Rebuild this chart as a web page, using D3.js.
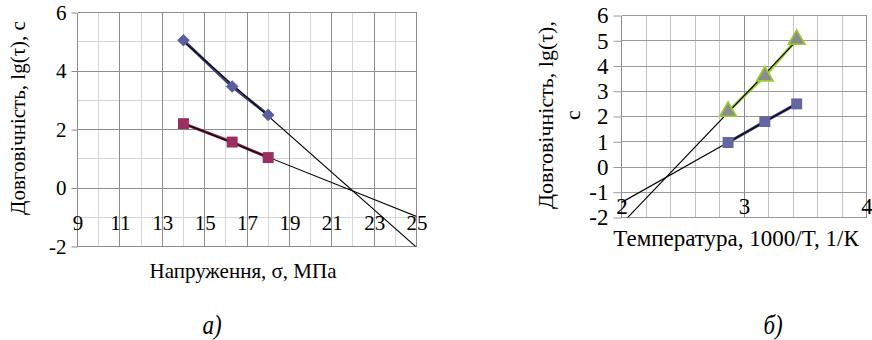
<!DOCTYPE html>
<html>
<head>
<meta charset="utf-8">
<script src="https://cdn.jsdelivr.net/npm/d3@7"></script>
<style>
  body { margin: 0; background: #fff; }
  svg { display: block; }
  text { font-family: "Liberation Serif", "DejaVu Serif", serif; fill: #000; }
</style>
</head>
<body>
<svg id="chart" width="872" height="340"></svg>
<script>
// Panel а: durability versus stress
const stressX = [14, 16.3, 18];
const lifeDiamond = [5.05, 3.47, 2.5];
const lifeSquareA = [2.2, 1.57, 1.04];
const stressTicks = [9, 11, 13, 15, 17, 19, 21, 23, 25];
const lifeTicksA = [-2, 0, 2, 4, 6];

// Panel б: durability versus reciprocal temperature
const invTempX = [2.87, 3.17, 3.43];
const lifeTriangle = [2.2, 3.6, 5.05];
const lifeSquareB = [0.97, 1.8, 2.5];
const invTempTicks = [2, 3, 4];
const lifeTicksB = [-2, -1, 0, 1, 2, 3, 4, 5, 6];

const serif = '"Liberation Serif", "DejaVu Serif", serif';
const svg = d3.select("#chart");

// ordinary least squares line through a series
function fit(xs, ys) {
  const mx = d3.mean(xs), my = d3.mean(ys);
  const sxy = d3.sum(xs, (x, i) => (x - mx) * (ys[i] - my));
  const sxx = d3.sum(xs, x => (x - mx) * (x - mx));
  const b = sxy / sxx;
  return x => my + b * (x - mx);
}

function grid(g, x, y, xs, ys, colorX, colorY) {
  g.selectAll("line.vx").data(xs).join("line")
    .attr("x1", d => x(d)).attr("x2", d => x(d))
    .attr("y1", y.range()[0]).attr("y2", y.range()[1])
    .attr("stroke", colorX).attr("stroke-width", 1).attr("shape-rendering", "crispEdges");
  g.selectAll("line.hy").data(ys).join("line")
    .attr("x1", x.range()[0]).attr("x2", x.range()[1])
    .attr("y1", d => y(d)).attr("y2", d => y(d))
    .attr("stroke", colorY).attr("stroke-width", 1).attr("shape-rendering", "crispEdges");
}

function series(g, x, y, xs, ys, color, symbol, size, rotate, fill, stroke, trendFrom, trendTo, clipId) {
  const pts = xs.map((v, i) => [x(v), y(ys[i])]);
  g.append("path").attr("d", d3.line()(pts))
    .attr("fill", "none").attr("stroke", color).attr("stroke-width", 3);
  const f = fit(xs, ys);
  g.append("line").attr("clip-path", `url(#${clipId})`)
    .attr("x1", x(trendFrom)).attr("y1", y(f(trendFrom)))
    .attr("x2", x(trendTo)).attr("y2", y(f(trendTo)))
    .attr("stroke", "#000").attr("stroke-width", 1.1);
  g.selectAll(null).data(pts).join("path")
    .attr("d", d3.symbol().type(symbol).size(size)())
    .attr("transform", d => `translate(${d[0]},${d[1]}) rotate(${rotate})`)
    .attr("fill", fill).attr("stroke", stroke || "none").attr("stroke-width", stroke ? 1.6 : 0);
}

// ---------- panel а ----------
{
  const L = 77.5, R = 416.5, T = 12.5, B = 246.5;
  const x = d3.scaleLinear().domain([9, 25]).range([L, R]);
  const y = d3.scaleLinear().domain([-2, 6]).range([B, T]);
  const g = svg.append("g");
  g.append("clipPath").attr("id", "clipA").append("rect")
    .attr("x", L).attr("y", T).attr("width", R - L).attr("height", B - T);

  const minorX = d3.range(10, 25, 2), minorY = d3.range(-1, 6, 2);
  grid(g.append("g"), x, y, minorX, minorY, "#d6d6d6", "#d6d6d6");
  grid(g.append("g"), x, y, stressTicks, lifeTicksA, "#8c8c8c", "#8c8c8c");

  // y axis ticks and labels
  const ya = g.append("g").attr("transform", `translate(${L},0)`)
    .call(d3.axisLeft(y).tickValues(lifeTicksA).tickSize(6).tickPadding(5).tickFormat(d => String(d)));
  ya.select(".domain").remove();
  ya.selectAll(".tick line").attr("stroke", "#8c8c8c");
  ya.selectAll("text").style("font-size", "21px").style("font-family", serif);

  // x labels sit below the zero line
  const xa = g.append("g").attr("transform", `translate(0,${y(0) + 27})`)
    .call(d3.axisBottom(x).tickValues(stressTicks).tickSize(0).tickPadding(0).tickFormat(d => String(d)));
  xa.select(".domain").remove();
  xa.selectAll("text").style("font-size", "21px").style("font-family", serif);

  series(g, x, y, stressX, lifeDiamond, "#3c3f7a", d3.symbolSquare, 80, 45, "#5b5e9c", null, 14, 25.5, "clipA");
  series(g, x, y, stressX, lifeSquareA, "#7a1f48", d3.symbolSquare, 120, 0, "#9b2f63", null, 14, 25.5, "clipA");

  g.append("text").attr("x", 243).attr("y", 278).attr("text-anchor", "middle")
    .style("font-size", "21px").text("Напруження, σ, МПа");
  g.append("text").attr("transform", "translate(25,118) rotate(-90)").attr("text-anchor", "middle")
    .style("font-size", "21px").text("Довговічність, lg(τ), с");
  g.append("text").attr("transform", "translate(212,334) scale(0.85,1)").attr("text-anchor", "middle")
    .style("font-size", "27px").style("font-style", "italic").text("а)");
}

// ---------- panel б ----------
{
  const L = 621.5, R = 866.5, T = 15.5, B = 217.5;
  const x = d3.scaleLinear().domain([2, 4]).range([L, R]);
  const y = d3.scaleLinear().domain([-2, 6]).range([B, T]);
  const g = svg.append("g");
  g.append("clipPath").attr("id", "clipB").append("rect")
    .attr("x", L).attr("y", T).attr("width", R - L).attr("height", B - T);

  const vx = d3.range(0, 11).map(i => 2 + i * 0.2);
  grid(g.append("g"), x, y, vx, lifeTicksB, "#c4c4c4", "#9a9a9a");
  grid(g.append("g"), x, y, invTempTicks, [], "#8c8c8c", "#8c8c8c");

  const ya = g.append("g").attr("transform", `translate(${L},0)`)
    .call(d3.axisLeft(y).tickValues(lifeTicksB).tickSize(8).tickPadding(5).tickFormat(d => String(d)));
  ya.select(".domain").remove();
  ya.selectAll(".tick line").attr("stroke", "#9a9a9a");
  ya.selectAll("text").style("font-size", "23px").style("font-family", serif);

  const xa = g.append("g").attr("transform", `translate(0,${y(-1) + 5})`)
    .call(d3.axisBottom(x).tickValues(invTempTicks).tickSize(0).tickPadding(0).tickFormat(d => String(d)));
  xa.select(".domain").remove();
  xa.selectAll("text").style("font-size", "23px").style("font-family", serif);

  series(g, x, y, invTempX, lifeTriangle, "#9acd32", d3.symbolTriangle, 120, 0, "#8c8c8c", "#9acd32", 1.9, 3.43, "clipB");
  series(g, x, y, invTempX, lifeSquareB, "#3c3f80", d3.symbolSquare, 120, 0, "#6466a0", null, 1.9, 3.43, "clipB");

  g.append("text").attr("x", 736).attr("y", 246).attr("text-anchor", "middle")
    .style("font-size", "23px").text("Температура, 1000/T, 1/К");
  const yt = g.append("text").attr("transform", "translate(553,115) rotate(-90)").attr("text-anchor", "middle")
    .style("font-size", "22px");
  yt.append("tspan").attr("x", 0).attr("dy", 0).text("Довговічність, lg(τ),");
  yt.append("tspan").attr("x", 0).attr("dy", 27).text("с");
  g.append("text").attr("transform", "translate(773,334) scale(0.85,1)").attr("text-anchor", "middle")
    .style("font-size", "27px").style("font-style", "italic").text("б)");
}
</script>
</body>
</html>
